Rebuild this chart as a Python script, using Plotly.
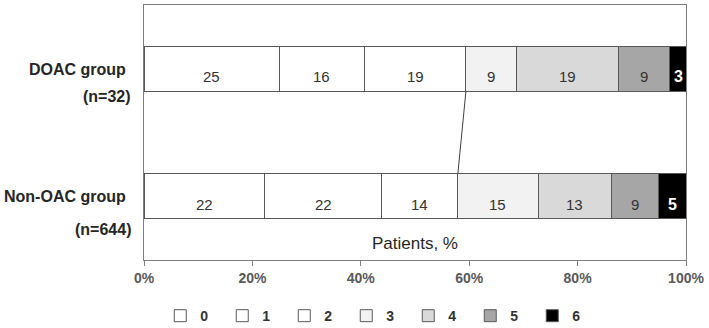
import plotly.graph_objects as go

groups = ["Non-OAC group", "DOAC group"]
group_n = ["(n=644)", "(n=32)"]
scores = ["0", "1", "2", "3", "4", "5", "6"]
doac_values = [25.0, 15.6, 18.8, 9.4, 18.8, 9.4, 3.1]
nonoac_values = [22.3, 21.6, 14.0, 14.8, 13.5, 8.8, 5.0]
doac_labels = ["25", "16", "19", "9", "19", "9", "3"]
nonoac_labels = ["22", "22", "14", "15", "13", "9", "5"]
x_ticks = [0, 20, 40, 60, 80, 100]
x_tick_labels = ["0%", "20%", "40%", "60%", "80%", "100%"]

colors = ["#ffffff", "#ffffff", "#ffffff", "#f2f2f2", "#d9d9d9", "#a6a6a6", "#000000"]
text_colors = ["#333333"] * 6 + ["#ffffff"]
edge = "#595959"
ypos = [0, 1]
FONT = "Liberation Sans, Arial"

fig = go.Figure()
for i, s in enumerate(scores):
    fig.add_trace(go.Bar(
        y=ypos, x=[nonoac_values[i], doac_values[i]], orientation="h",
        name=s, width=0.35,
        marker=dict(color=colors[i], line=dict(color=edge, width=1)),
        hoverinfo="skip",
    ))

# text labels (slightly below bar centres)
for vals, labs, yv in [(nonoac_values, nonoac_labels, 0), (doac_values, doac_labels, 1)]:
    cum = 0
    for i, (v, lab) in enumerate(zip(vals, labs)):
        mid = cum + v / 2
        cum += v
        bold = i == 6
        fig.add_annotation(
            x=mid, y=yv, yshift=-8, text=("<b>%s</b>" % lab) if bold else lab,
            showarrow=False, xref="x", yref="y",
            font=dict(family=FONT, size=15 if not bold else 16, color=text_colors[i]),
        )

# connector line between score 2 / 3 boundaries
d_b = sum(doac_values[:3])
n_b = sum(nonoac_values[:3])
fig.add_trace(go.Scatter(
    x=[d_b, n_b], y=[1 - 0.175, 0 + 0.175], mode="lines",
    line=dict(color="#404040", width=1), showlegend=False, hoverinfo="skip",
))

# group labels
for yv, g, n in zip(ypos, groups, group_n):
    fig.add_annotation(x=0, y=yv, xref="paper", yref="y", xanchor="right",
                       xshift=-16, yshift=(-1 if yv == 1 else 0), text="<b>%s</b>" % g,
                       showarrow=False,
                       font=dict(family=FONT, size=16, color="#262626"))
    fig.add_annotation(x=0, y=yv, xref="paper", yref="y", xanchor="right",
                       xshift=-11, yshift=(-28 if yv == 1 else -33), text="<b>%s</b>" % n,
                       showarrow=False,
                       font=dict(family=FONT, size=16, color="#262626"))

fig.add_annotation(x=50, y=-0.37, xref="x", yref="y", text="Patients, %",
                   showarrow=False,
                   font=dict(family=FONT, size=17, color="#262626"))

fig.update_layout(
    barmode="stack",
    width=709, height=328,
    margin=dict(l=144, r=23, t=5, b=68, autoexpand=False),
    plot_bgcolor="white", paper_bgcolor="white",
    showlegend=True,
    legend=dict(orientation="h", x=0.03, xanchor="left", y=-0.22, yanchor="middle",
                entrywidth=17, traceorder="normal", itemwidth=30,
                font=dict(family=FONT, size=14, color="#333333", weight="bold")),
    xaxis=dict(range=[0, 100], tickvals=x_ticks, ticktext=x_tick_labels,
               showgrid=False, zeroline=False, showline=True, linecolor="#7f7f7f",
               mirror=True, ticks="outside", ticklen=5, tickcolor="#7f7f7f",
               tickfont=dict(family=FONT, size=14, color="#595959", weight="bold")),
    yaxis=dict(range=[-0.5, 1.5], showticklabels=False, showgrid=False, zeroline=False,
               showline=True, linecolor="#7f7f7f", mirror=True, ticks=""),
)

fig.write_html("out.html", config={"displayModeBar": False},
               post_script="document.body.style.margin='0';")
